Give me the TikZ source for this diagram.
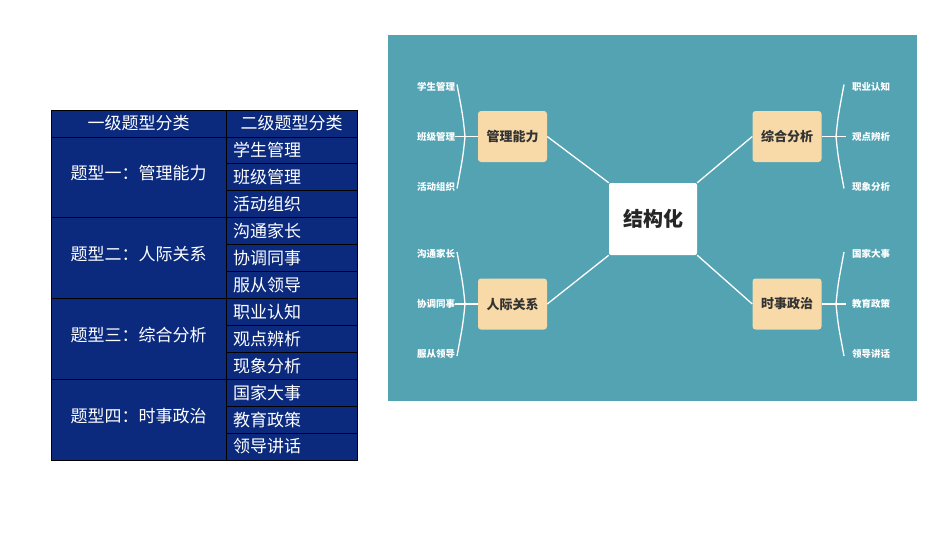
\documentclass[tikz,border=0pt]{standalone}
\usepackage{fontspec}
\newfontfamily\cjk{Noto Sans CJK SC}
\begin{document}
\begin{tikzpicture}[x=1pt,y=-1pt,
  cell/.style={draw=black,fill=navy,line width=0.8pt},
  ctext/.style={text=white,font=\cjk\fontsize{17}{17}\selectfont,inner sep=0},
  branch/.style={fill=peach,rounded corners=3pt,minimum width=69pt,minimum height=51pt,font=\cjk\bfseries\fontsize{13}{13}\selectfont,text=black!80},
  leaf/.style={text=white,font=\cjk\bfseries\fontsize{9.5}{10}\selectfont,inner sep=0},
  wl/.style={draw=white,line width=1.3pt}]
\definecolor{navy}{HTML}{0B2A7E}
\definecolor{teal}{HTML}{53A3B3}
\definecolor{peach}{HTML}{F8D9A8}
\useasboundingbox[fill=white] (0,0) rectangle (950,535);
% table
\def\rh{26.92}
\foreach \i in {0,...,12}{
  \draw[cell] (226,110+\i*\rh) rectangle (357,110+\i*\rh+\rh);}
\draw[cell] (51,110) rectangle (226,110+\rh);
\foreach \i in {0,...,3}{
  \draw[cell] (51,110+\rh+\i*3*\rh) rectangle (226,110+\rh+\i*3*\rh+3*\rh);}
\node[ctext] (h1) at (138.5,110+0.5*\rh) {一级题型分类};
\node[ctext] (h2) at (291.5,110+0.5*\rh) {二级题型分类};
\foreach \t [count=\i from 0] in {题型一：管理能力,题型二：人际关系,题型三：综合分析,题型四：时事政治}{
  \node[ctext] (g\i) at (138.5,110+\rh+\i*3*\rh+1.5*\rh-4) {\t};}
\foreach \t [count=\i from 1] in {学生管理,班级管理,活动组织,沟通家长,协调同事,服从领导,职业认知,观点辨析,现象分析,国家大事,教育政策,领导讲话}{
  \node[ctext,anchor=west] (s\i) at (233,110+\i*\rh+0.5*\rh) {\t};}
% mind map
\fill[teal] (388,35) rectangle (917,401);
\node[fill=white,rounded corners=2pt,minimum width=88pt,minimum height=72pt,font=\cjk\bfseries\fontsize{20}{20}\selectfont,text=black!85] (c) at (653,219) {结构化};
\node[branch] (b1) at (512.5,136.5) {管理能力};
\node[branch] (b2) at (787,136.5) {综合分析};
\node[branch] (b3) at (512.5,304) {人际关系};
\node[branch] (b4) at (787,304) {时事政治};
\draw[wl] (b1.east) -- (c.north west);
\draw[wl] (b2.west) -- (c.north east);
\draw[wl] (b3.east) -- (c.south west);
\draw[wl] (b4.west) -- (c.south east);
% leaves
\foreach \b/\y/\a/\bb/\cc in {b1/136.5/学生管理/班级管理/活动组织,b3/304/沟通家长/协调同事/服从领导}{
  \coordinate (t) at (457,\y-52); \coordinate (m) at (465,\y); \coordinate (u) at (457,\y+52);
  \draw[wl] (t) .. controls (463,\y-20) .. (m) .. controls (463,\y+20) .. (u);
  \draw[wl] (455,\y) -- (\b.west);
  \node[leaf] at (436,\y-50) {\a};
  \node[leaf] at (436,\y) {\bb};
  \node[leaf] at (436,\y+50) {\cc};}
\foreach \b/\y/\a/\bb/\cc in {b2/136.5/职业认知/观点辨析/现象分析,b4/304/国家大事/教育政策/领导讲话}{
  \coordinate (t) at (844,\y-52); \coordinate (m) at (836,\y); \coordinate (u) at (844,\y+52);
  \draw[wl] (t) .. controls (838,\y-20) .. (m) .. controls (838,\y+20) .. (u);
  \draw[wl] (846,\y) -- (\b.east);
  \node[leaf] at (871,\y-50) {\a};
  \node[leaf] at (871,\y) {\bb};
  \node[leaf] at (871,\y+50) {\cc};}
\end{tikzpicture}
\end{document}
